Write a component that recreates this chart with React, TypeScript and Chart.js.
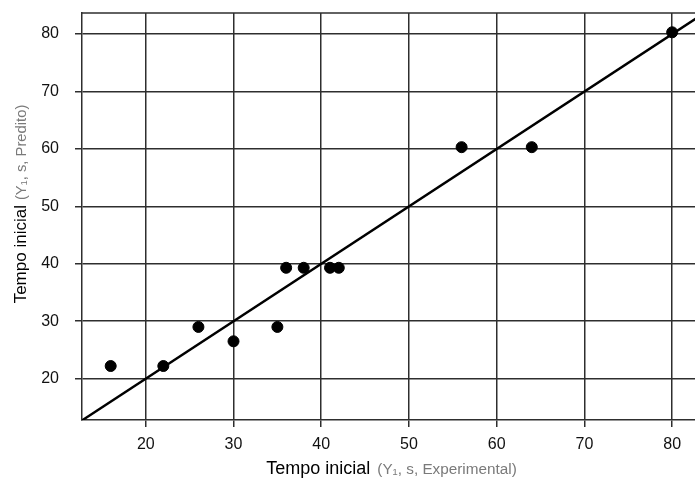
import React, { useEffect, useRef } from 'react';
import { Chart, registerables } from 'chart.js';

Chart.register(...registerables);

// ---- data ----
const experimental = [16, 22, 26, 30, 35, 36, 38, 41, 42, 56, 64, 80];
const predicted = [22.2, 22.2, 29.0, 26.5, 29.0, 39.3, 39.3, 39.3, 39.3, 60.3, 60.3, 80.3];
const xTicks = [20, 30, 40, 50, 60, 70, 80];
const yTicks = [20, 30, 40, 50, 60, 70, 80];
const xRange = [12.73, 82.66];
const yRange = [12.8, 83.66];
const idealLineEnds = [0, 100]; // y = x reference line
const xTitleMain = 'Tempo inicial';
const xTitleNote = '(Y\u2081, s, Experimental)';
const yTitleMain = 'Tempo inicial';
const yTitleNote = '(Y\u2081, s, Predito)';

const FONT = '"Liberation Sans", Arial, Helvetica, sans-serif';
const GRID = '#2e2e2e';
const CANVAS_W = 702;

function drawTitle(ctx: CanvasRenderingContext2D, main: string, note: string, mainSize: number, noteSize: number, gap: number) {
  ctx.font = `${mainSize}px ${FONT}`;
  const w1 = ctx.measureText(main).width;
  ctx.font = `${noteSize}px ${FONT}`;
  const w2 = ctx.measureText(note).width;
  const total = w1 + gap + w2;
  let x = -total / 2;
  ctx.textAlign = 'left';
  ctx.textBaseline = 'alphabetic';
  ctx.font = `${mainSize}px ${FONT}`;
  ctx.fillStyle = '#000';
  ctx.fillText(main, x, 0);
  x += w1 + gap;
  ctx.font = `${noteSize}px ${FONT}`;
  ctx.fillStyle = '#7a7a7a';
  ctx.fillText(note, x, 0);
}

const framePlugin = {
  id: 'framePlugin',
  beforeDatasetsDraw(chart: any) {
    const { ctx, chartArea: a } = chart;
    ctx.save();
    ctx.strokeStyle = GRID;
    ctx.lineWidth = 1.5;
    ctx.beginPath();
    ctx.moveTo(a.left, a.top);
    ctx.lineTo(a.right, a.top);
    ctx.stroke();
    ctx.restore();
  },
  afterDraw(chart: any) {
    const { ctx } = chart;
    ctx.save();
    ctx.translate(391.5, 474);
    drawTitle(ctx, xTitleMain, xTitleNote, 18, 15.3, 7);
    ctx.restore();
    ctx.save();
    ctx.translate(25.5, 204);
    ctx.rotate(-Math.PI / 2);
    drawTitle(ctx, yTitleMain, yTitleNote, 17, 14.8, 5);
    ctx.restore();
  },
};

export default function App() {
  const ref = useRef<HTMLCanvasElement>(null);
  useEffect(() => {
    if (!ref.current) return;
    const chart = new Chart(ref.current, {
      type: 'scatter',
      data: {
        datasets: [
          {
            type: 'line',
            data: idealLineEnds.map((v) => ({ x: v, y: v })),
            borderColor: '#000',
            borderWidth: 2.5,
            pointRadius: 0,
            clip: 0,
          } as any,
          {
            type: 'scatter',
            data: experimental.map((x, i) => ({ x, y: predicted[i] })),
            backgroundColor: '#000',
            borderColor: '#000',
            pointRadius: 5.5,
            pointHoverRadius: 5.5,
            clip: false,
          } as any,
        ],
      },
      options: {
        animation: false,
        responsive: false,
        devicePixelRatio: 1,
        layout: { padding: { top: 13, right: 0, left: 0, bottom: 0 } },
        plugins: { legend: { display: false }, tooltip: { enabled: false }, title: { display: false } },
        scales: {
          x: {
            type: 'linear',
            min: xRange[0],
            max: xRange[1],
            afterBuildTicks: (s: any) => {
              s.ticks = xTicks.map((v) => ({ value: v }));
            },
            afterFit: (s: any) => {
              s.height = 59;
              s.paddingLeft = 0;
              s.paddingRight = 0;
            },
            grid: { color: GRID, lineWidth: 1.5, tickLength: 7, drawTicks: true },
            border: { display: true, color: GRID, width: 1.5 },
            ticks: {
              color: '#111',
              font: { family: FONT, size: 16 },
              padding: 8,
              maxRotation: 0,
              callback: (v: any) => String(v),
            },
          },
          y: {
            type: 'linear',
            min: yRange[0],
            max: yRange[1],
            afterBuildTicks: (s: any) => {
              s.ticks = yTicks.map((v) => ({ value: v }));
            },
            afterFit: (s: any) => {
              s.width = 82;
              s.paddingTop = 0;
              s.paddingBottom = 0;
            },
            grid: { color: GRID, lineWidth: 1.5, tickLength: 7, drawTicks: true },
            border: { display: true, color: GRID, width: 1.5 },
            ticks: {
              color: '#111',
              font: { family: FONT, size: 16 },
              padding: 16,
              callback: (v: any) => String(v),
            },
          },
        },
      },
      plugins: [framePlugin],
    });
    return () => chart.destroy();
  }, []);
  return (
    <div style={{ position: 'absolute', left: 0, top: 0, width: 695, height: 479, overflow: 'hidden', background: '#fff' }}>
      <canvas ref={ref} width={CANVAS_W} height={479} style={{ display: 'block', width: CANVAS_W, height: 479 }} />
    </div>
  );
}
